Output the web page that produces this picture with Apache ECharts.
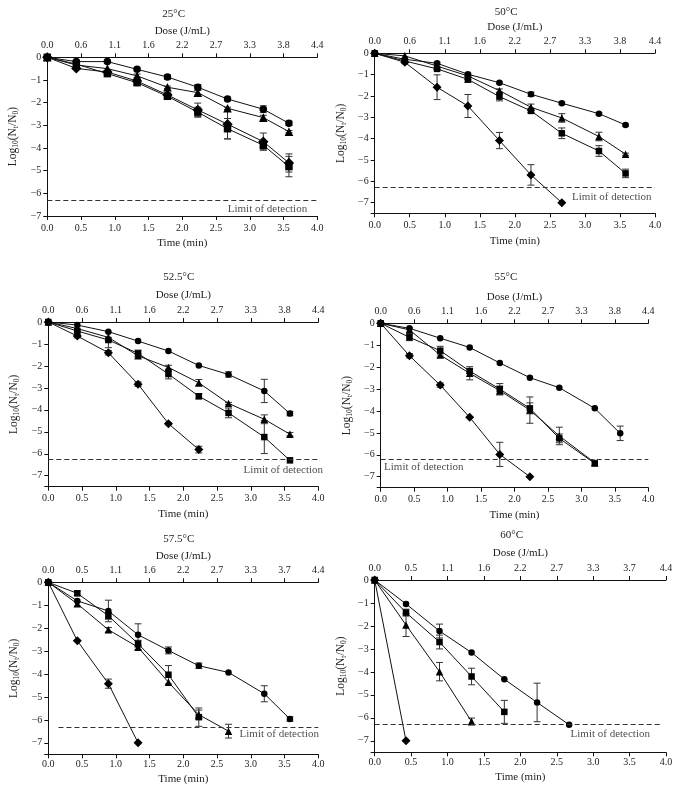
<!DOCTYPE html>
<html><head><meta charset="utf-8">
<script src="https://cdn.jsdelivr.net/npm/echarts@6/dist/echarts.min.js"></script>
<style>html,body{margin:0;padding:0;background:#fff}#c{width:679px;height:798px}</style>
</head><body><div id="c"></div>
<script>
// ---------- DATA ----------
const time = [0, 0.43, 0.89, 1.33, 1.78, 2.23, 2.67, 3.2, 3.58];
const timeTicks = ['0.0','0.5','1.0','1.5','2.0','2.5','3.0','3.5','4.0'];
const doseTicksA = ['0.0','0.6','1.1','1.6','2.2','2.7','3.3','3.8','4.4'];
const doseTicksB = ['0.0','0.5','1.1','1.6','2.2','2.7','3.3','3.7','4.4'];
const yTicks = [0, -1, -2, -3, -4, -5, -6, -7];
const temps = ['25°C', '50°C', '52.5°C', '55°C', '57.5°C', '60°C'];
const limitOfDetection = [-6.3, -6.3, -6.25, -6.22, -6.32, -6.3];

// 25 °C
const c25  = [0, -0.19, -0.19, -0.53, -0.87, -1.32, -1.84, -2.29, -2.91];
const c25e = [0, 0.05, 0.05, 0.06, 0.1, 0.12, 0.08, 0.15, 0.1];
const t25  = [0, -0.34, -0.5, -0.82, -1.32, -1.56, -2.25, -2.66, -3.28];
const t25e = [0, 0, 0, 0.08, 0.05, 0.1, 0.05, 0.1, 0.05];
const s25  = [0, -0.3, -0.72, -1.12, -1.72, -2.42, -3.15, -3.88, -4.82];
const s25e = [0, 0, 0.05, 0.1, 0.1, 0.22, 0.45, 0.2, 0.45];
const d25  = [0, -0.49, -0.65, -1.05, -1.66, -2.32, -2.95, -3.72, -4.66];
const d25e = [0, 0, 0, 0.08, 0.08, 0.3, 0.65, 0.38, 0.4];
// 50 °C
const c50  = [0, -0.28, -0.47, -0.98, -1.38, -1.92, -2.34, -2.83, -3.36];
const c50e = [0, 0, 0.05, 0.05, 0.05, 0.1, 0.05, 0.05, 0.05];
const t50  = [0, -0.12, -0.6, -1.06, -1.75, -2.53, -3.03, -3.9, -4.73];
const t50e = [0, 0, 0, 0.05, 0.08, 0.15, 0.2, 0.2, 0.05];
const s50  = [0, -0.36, -0.73, -1.22, -2.03, -2.7, -3.75, -4.58, -5.63];
const s50e = [0, 0, 0.05, 0.15, 0.2, 0.08, 0.25, 0.25, 0.2];
const d50  = [0, -0.42, -1.59, -2.47, -4.09, -5.7, -7.0];
const d50e = [0, 0, 0.58, 0.54, 0.38, 0.48, 0];
// 52.5 °C
const c525  = [0, -0.14, -0.44, -0.87, -1.32, -1.98, -2.39, -3.14, -4.17];
const c525e = [0, 0, 0, 0, 0, 0, 0.12, 0.53, 0.1];
const t525  = [0, -0.3, -0.7, -1.54, -2.07, -2.77, -3.71, -4.43, -5.11];
const t525e = [0, 0, 0, 0.1, 0.1, 0.15, 0.05, 0.2, 0.08];
const s525  = [0, -0.41, -0.82, -1.43, -2.37, -3.38, -4.14, -5.24, -6.3];
const s525e = [0, 0, 0.35, 0.15, 0.22, 0.12, 0.22, 0.75, 0];
const d525  = [0, -0.64, -1.4, -2.83, -4.63, -5.81];
const d525e = [0, 0.08, 0.1, 0.1, 0.05, 0.15];
// 55 °C
const c55  = [0, -0.23, -0.68, -1.1, -1.81, -2.48, -2.94, -3.88, -5.02];
const c55e = [0, 0, 0, 0, 0, 0, 0, 0, 0.33];
const t55  = [0, -0.3, -1.45, -2.28, -3.07, -3.96, -5.14, -6.36];
const t55e = [0, 0.1, 0.1, 0.3, 0.2, 0.6, 0.4, 0];
const s55  = [0, -0.64, -1.25, -2.18, -3.0, -3.88, -5.25, -6.39];
const s55e = [0, 0.15, 0.2, 0.1, 0.25, 0.25, 0.2, 0];
const d55  = [0, -1.48, -2.82, -4.29, -5.98, -7.0];
const d55e = [0, 0.1, 0.1, 0, 0.55, 0];
// 57.5 °C
const c575  = [0, -0.81, -1.25, -2.29, -2.97, -3.64, -3.93, -4.86, -5.96];
const c575e = [0, 0, 0.47, 0.48, 0.15, 0.12, 0, 0.35, 0.1];
const t575  = [0, -0.94, -2.07, -2.83, -4.36, -5.77, -6.49];
const t575e = [0, 0.1, 0.1, 0.1, 0, 0.2, 0.3];
const s575  = [0, -0.48, -1.46, -2.68, -4.03, -5.88];
const s575e = [0, 0.1, 0.15, 0.15, 0.4, 0.4];
const d575  = [0, -2.55, -4.42, -7.0];
const d575e = [0, 0, 0.2, 0];
// 60 °C
const c60  = [0, -1.04, -2.22, -3.16, -4.32, -5.33, -6.3];
const c60e = [0, 0, 0.3, 0, 0, 0.84, 0];
const t60  = [0, -1.96, -3.99, -6.16];
const t60e = [0, 0.5, 0.4, 0.15];
const s60  = [0, -1.42, -2.7, -4.2, -5.74];
const s60e = [0, 0.15, 0.3, 0.36, 0.5];
const d60  = [0, -7.0];
const d60e = [0, 0];

const panelData = [
  {c:c25, ce:c25e, t:t25, te:t25e, s:s25, se:s25e, d:d25, de:d25e},
  {c:c50, ce:c50e, t:t50, te:t50e, s:s50, se:s50e, d:d50, de:d50e},
  {c:c525, ce:c525e, t:t525, te:t525e, s:s525, se:s525e, d:d525, de:d525e},
  {c:c55, ce:c55e, t:t55, te:t55e, s:s55, se:s55e, d:d55, de:d55e},
  {c:c575, ce:c575e, t:t575, te:t575e, s:s575, se:s575e, d:d575, de:d575e},
  {c:c60, ce:c60e, t:t60, te:t60e, s:s60, se:s60e, d:d60, de:d60e}
];

// ---------- LAYOUT ----------
const FONT = '"Liberation Serif", "DejaVu Serif", serif';
const layout = [
  {left:47.3, top:57.3, width:270, height:158.7, ymax:7,   dose:doseTicksA, titleY:15,  lodFrom:0, lodTo:4,   lodText:[3.85, 6.7], lodAlign:'left', lm:7, ng:22, ms:1.15},
  {left:374.7, top:53.3, width:280.3, height:160, ymax:7.5, dose:doseTicksA, titleY:12.7, lodFrom:0, lodTo:4, lodText:[3.95, 6.75], lodAlign:'left', lm:7, ng:22, ms:1},
  {left:48.3, top:322, width:270, height:164.7, ymax:7.5, dose:doseTicksA, titleY:278, lodFrom:0, lodTo:4,   lodText:[4.07, 6.76], lodAlign:'left', lm:7, ng:22, ms:1},
  {left:380.7, top:323.3, width:267.6, height:164.4, ymax:7.5, dose:doseTicksA, titleY:278, lodFrom:0, lodTo:4, lodText:[0.05, 6.58], lodAlign:'right', lm:7, ng:22, ms:1},
  {left:48.3, top:582.3, width:270, height:172, ymax:7.5, dose:doseTicksB, titleY:540, lodFrom:0.15, lodTo:4, lodText:[4.01, 6.61], lodAlign:'left', lm:5, ng:19, ms:1},
  {left:374.7, top:580, width:291.3, height:172.3, ymax:7.5, dose:doseTicksB, titleY:536, lodFrom:0, lodTo:3.92, lodText:[3.78, 6.7], lodAlign:'left', lm:5, ng:19, ms:1}
];
const markers = [
  {key:'c', sym:'circle', size:6.5},
  {key:'t', sym:'triangle', size:7.5},
  {key:'s', sym:'rect', size:6.5},
  {key:'d', sym:'diamond', size:9}
];

const txt = {fontFamily: FONT, color: '#222', fontSize: 10};
const grid = [], xAxis = [], yAxis = [], series = [], graphic = [];

layout.forEach((L, p) => {
  grid.push({left: L.left, top: L.top, width: L.width, height: L.height});
  const axisCommon = {
    min: 0, max: 4, interval: 0.5, gridIndex: p,
    axisLine: {onZero: false, lineStyle: {color: '#111', width: 1}},
    axisTick: {length: 4, lineStyle: {color: '#111'}},
    splitLine: {show: false}
  };
  xAxis.push(Object.assign({}, axisCommon, {
    type: 'value', position: 'bottom',
    name: 'Time (min)', nameLocation: 'middle', nameGap: L.ng,
    nameTextStyle: {fontFamily: FONT, fontSize: 11, color: '#222'},
    axisLabel: Object.assign({}, txt, {margin: L.lm, formatter: v => timeTicks[Math.round(v / 0.5)]})
  }));
  xAxis.push(Object.assign({}, axisCommon, {
    type: 'value', position: 'top',
    name: 'Dose (J/mL)', nameLocation: 'middle', nameGap: 21,
    nameTextStyle: {fontFamily: FONT, fontSize: 11, color: '#222'},
    axisLabel: Object.assign({}, txt, {margin: 7, formatter: v => L.dose[Math.round(v / 0.5)]})
  }));
  yAxis.push({
    type: 'value', gridIndex: p, min: 0, max: L.ymax, interval: 1, inverse: true,
    axisLine: {onZero: false, lineStyle: {color: '#111', width: 1}},
    axisTick: {length: 4, lineStyle: {color: '#111'}},
    splitLine: {show: false},
    axisLabel: Object.assign({}, txt, {margin: 6, formatter: v => {
      const k = yTicks.indexOf(-v);
      if (k < 0) return '';
      return yTicks[k] === 0 ? '0' : '\u2212' + Math.abs(yTicks[k]);
    }}),
    name: '{n|Log}{s|10}{n|(N}{s|t}{n|/N}{s|0}{n|)}',
    nameLocation: 'middle', nameGap: 27, nameRotate: 90,
    nameTextStyle: {
      fontFamily: FONT, color: '#222',
      rich: {
        n: {fontFamily: FONT, fontSize: 11.5, color: '#222', lineHeight: 14, verticalAlign: 'middle'},
        s: {fontFamily: FONT, fontSize: 7.5, color: '#222', lineHeight: 14, verticalAlign: 'bottom', padding: [5, 0, 0, 0]}
      }
    }
  });

  const D = panelData[p];
  markers.forEach((m, mi) => {
    const vals = D[m.key];
    const errs = D[m.key + 'e'];
    const pts = vals.map((v, i) => [time[i], -v]);
    const s = {
      type: 'line', xAxisIndex: 2 * p, yAxisIndex: p,
      data: pts, symbol: m.sym, symbolSize: m.size * L.ms, showSymbol: true,
      lineStyle: {color: '#111', width: 1}, itemStyle: {color: '#000'},
      z: 3, silent: true, animation: false
    };
    if (mi === 0) {
      s.markLine = {
        silent: true, symbol: 'none', animation: false,
        lineStyle: {color: '#333', type: [5, 3], width: 1},
        label: {show: false},
        data: [[{coord: [L.lodFrom, -limitOfDetection[p]]}, {coord: [L.lodTo, -limitOfDetection[p]]}]]
      };
    }
    series.push(s);
    const eb = [];
    vals.forEach((v, i) => { if (errs[i] > 0) eb.push([time[i], -v, errs[i]]); });
    series.push({
      type: 'custom', xAxisIndex: 2 * p, yAxisIndex: p, z: 2, silent: true, animation: false,
      data: eb,
      renderItem: (params, api) => {
        const x = api.value(0), y = api.value(1), e = api.value(2);
        const a = api.coord([x, y - e]), b = api.coord([x, y + e]);
        const w = 3.5, st = {stroke: '#333', lineWidth: 1};
        return {type: 'group', children: [
          {type: 'line', shape: {x1: a[0], y1: a[1], x2: b[0], y2: b[1]}, style: st},
          {type: 'line', shape: {x1: a[0] - w, y1: a[1], x2: a[0] + w, y2: a[1]}, style: st},
          {type: 'line', shape: {x1: b[0] - w, y1: b[1], x2: b[0] + w, y2: b[1]}, style: st}
        ]};
      }
    });
  });
  // limit of detection text
  series.push({
    type: 'scatter', xAxisIndex: 2 * p, yAxisIndex: p, clip: false, silent: true, animation: false,
    symbolSize: 0, data: [L.lodText],
    label: {show: true, formatter: 'Limit of detection', position: L.lodAlign, distance: 0,
            fontFamily: FONT, fontSize: 11, color: '#222'}
  });
  graphic.push({
    type: 'text', left: L.left + L.width / 2 - 20, top: L.titleY - 6,
    style: {text: temps[p], fontFamily: FONT, fontSize: 11, fill: '#222', textAlign: 'center', width: 40}
  });
});

const chart = echarts.init(document.getElementById('c'), null, {renderer: 'canvas'});
chart.setOption({animation: false, backgroundColor: '#fff', grid, xAxis, yAxis, series, graphic});
</script></body></html>
